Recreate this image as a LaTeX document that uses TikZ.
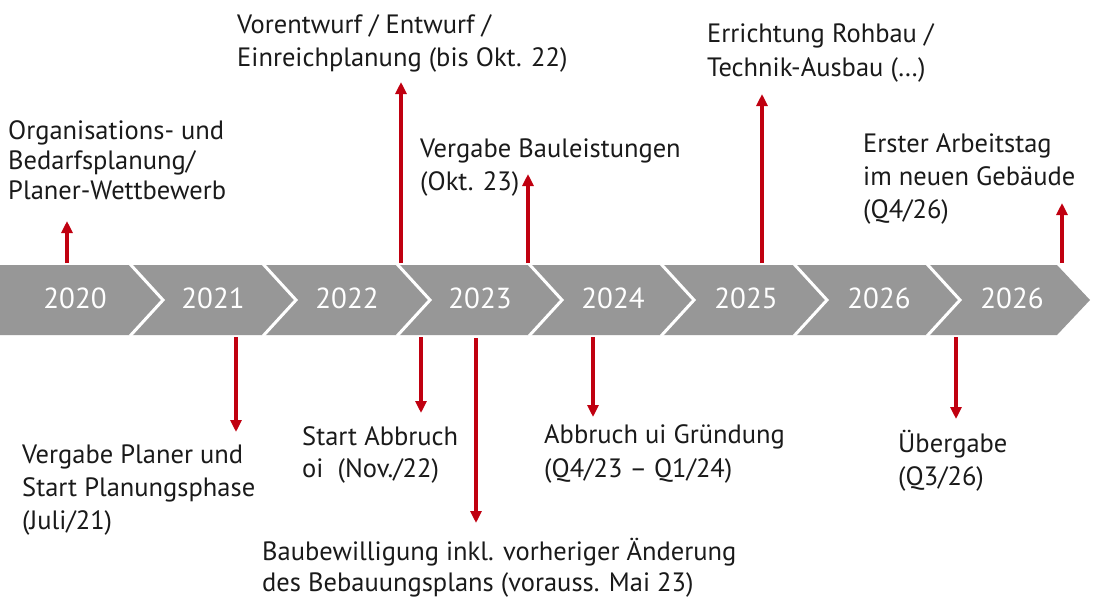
\documentclass[tikz,border=0pt]{standalone}
\usepackage{fontspec}
\setmainfont{PT Sans}
\usetikzlibrary{arrows.meta}
\definecolor{bandgray}{HTML}{979797}
\definecolor{redarrow}{HTML}{C00010}
\definecolor{txt}{HTML}{1A1A1A}
\begin{document}
\begin{tikzpicture}[x=1pt,y=-1pt,
  lbl/.style={anchor=base west, align=left, inner sep=0pt, text=txt},
  yr/.style={inner sep=0pt, text=white, font=\fontsize{29}{32}\selectfont},
  sep/.style={draw=white, line width=3pt},
  marker/.style={draw=redarrow, line width=3.5pt, -{Triangle[width=11pt,length=12pt]}}]
\useasboundingbox (0,0) rectangle (1100,598);
\fill[white] (0,0) rectangle (1100,598);
% band
\fill[bandgray] (0,265) -- (1057,265) -- (1090,300) -- (1057,335) -- (0,335) -- cycle;
\foreach \t in {163,296,430,562,694,827,960}{
  \draw[sep] (\t-33,264) -- (\t,300) -- (\t-33,336);
}
% years
\node[yr] (y0) at (75,298) {2020};
\node[yr] (y1) at (213,298) {2021};
\node[yr] (y2) at (347,298) {2022};
\node[yr] (y3) at (480,298) {2023};
\node[yr] (y4) at (613,298) {2024};
\node[yr] (y5) at (746,298) {2025};
\node[yr] (y6) at (879,298) {2026};
\node[yr] (y7) at (1012,298) {2026};
% labels above (anchor = baseline of last line)
\node[lbl, font=\fontsize{26.5}{30}\selectfont] (l1) at (8,199) {Organisations- und\\Bedarfsplanung/\\Planer-Wettbewerb};
\node[lbl, font=\fontsize{26.5}{33}\selectfont] (l2) at (237,66) {Vorentwurf / Entwurf /\\Einreichplanung (bis Okt. 22)};
\node[lbl, font=\fontsize{26.5}{33}\selectfont] (l3) at (420,190) {Vergabe Bauleistungen\\(Okt. 23)};
\node[lbl, font=\fontsize{26.5}{34}\selectfont] (l4) at (707,76) {Errichtung Rohbau /\\Technik-Ausbau (…)};
\node[lbl, font=\fontsize{26.5}{33}\selectfont] (l5) at (863,218) {Erster Arbeitstag\\im neuen Gebäude\\(Q4/26)};
% labels below
\node[lbl, font=\fontsize{26.5}{33}\selectfont] (b1) at (22,529) {Vergabe Planer und\\Start Planungsphase\\(Juli/21)};
\node[lbl, font=\fontsize{26.5}{32}\selectfont] (b2) at (302,477) {Start Abbruch\\oi\ \ (Nov./22)};
\node[lbl, font=\fontsize{26.5}{31}\selectfont] (b3) at (262,591) {Baubewilligung inkl. vorheriger Änderung\\des Bebauungsplans (vorauss. Mai 23)};
\node[lbl, font=\fontsize{26.5}{34}\selectfont] (b4) at (544,477) {Abbruch ui Gründung\\(Q4/23 – Q1/24)};
\node[lbl, font=\fontsize{26.5}{33}\selectfont] (b5) at (898,485) {Übergabe\\(Q3/26)};
% arrow coordinates
\coordinate (s1) at (67,263);   \coordinate (e1) at (67,221);
\coordinate (s2) at (401,263);  \coordinate (e2) at (401,82);
\coordinate (s3) at (528,263);  \coordinate (e3) at (528,174);
\coordinate (s4) at (762,263);  \coordinate (e4) at (762,94);
\coordinate (s5) at (1062,263); \coordinate (e5) at (1062,203);
\coordinate (d1) at (236,337);  \coordinate (f1) at (236,432);
\coordinate (d2) at (421,337);  \coordinate (f2) at (421,413);
\coordinate (d3) at (476,338);  \coordinate (f3) at (476,523);
\coordinate (d4) at (593,337);  \coordinate (f4) at (593,417);
\coordinate (d5) at (956,337);  \coordinate (f5) at (956,419);
\draw[marker] (s1) -- (e1);
\draw[marker] (s2) -- (e2);
\draw[marker] (s3) -- (e3);
\draw[marker] (s4) -- (e4);
\draw[marker] (s5) -- (e5);
\draw[marker] (d1) -- (f1);
\draw[marker] (d2) -- (f2);
\draw[marker] (d3) -- (f3);
\draw[marker] (d4) -- (f4);
\draw[marker] (d5) -- (f5);
\end{tikzpicture}
\end{document}
